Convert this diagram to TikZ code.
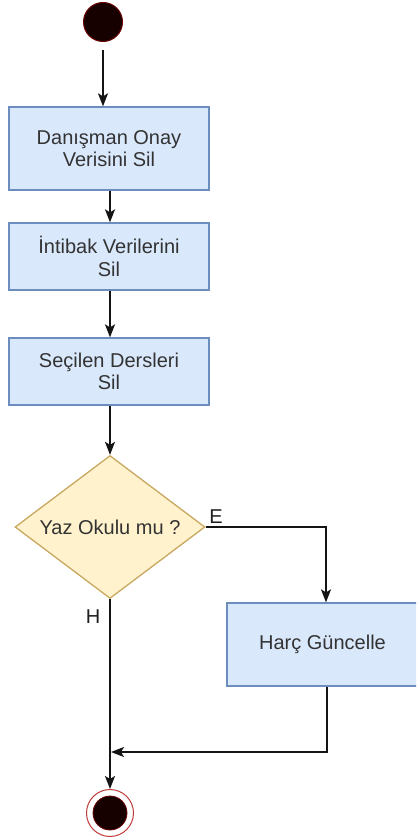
\documentclass[tikz,border=0pt]{standalone}
\usepackage{fontspec}
\setmainfont{Liberation Sans}
\usetikzlibrary{shapes.geometric,arrows.meta}

\definecolor{boxfill}{HTML}{DAE8FC}
\definecolor{boxline}{HTML}{6C8EBF}
\definecolor{decfill}{HTML}{FFF2CC}
\definecolor{decline}{HTML}{C9A860}
\definecolor{txt}{HTML}{333333}
\definecolor{dotfill}{HTML}{160000}
\definecolor{dotline}{HTML}{6A0000}
\definecolor{ringline}{HTML}{C03A3A}

\tikzset{
  stepbox/.style={rectangle, draw=boxline, fill=boxfill, line width=1.3pt,
    text=txt, align=center, inner sep=0pt,
    font=\fontsize{20}{22.5}\selectfont},
  decision/.style={diamond, aspect=1.33, draw=decline, fill=decfill, line width=1.3pt,
    text=txt, inner sep=0pt, minimum width=190pt, minimum height=143pt,
    font=\fontsize{20}{22.5}\selectfont},
  flow/.style={line width=1.6pt, draw={rgb,255:red,20;green,20;blue,20},
    -{Stealth[length=13pt,width=10pt,inset=3pt]}},
  plain/.style={line width=1.6pt, draw={rgb,255:red,20;green,20;blue,20}},
  branch/.style={text={rgb,255:red,30;green,30;blue,30}, inner sep=0pt,
    font=\fontsize{20}{22}\selectfont}
}

\begin{document}
\begin{tikzpicture}[x=1pt,y=-1pt]
  \useasboundingbox (0,0) rectangle (416,837);
  \clip (0,0) rectangle (416,837);

  % initial state
  \node[circle, fill=dotfill, draw=dotline, line width=1pt,
        minimum size=39pt, inner sep=0pt] (start) at (103,22) {};

  % activity steps
  \node[stepbox, minimum width=200pt, minimum height=83pt] (b1) at (109,148.5)
    {Danışman Onay\\Verisini Sil};
  \node[stepbox, minimum width=200pt, minimum height=67pt] (b2) at (109,256.5)
    {İntibak Verilerini\\Sil};
  \node[stepbox, minimum width=200pt, minimum height=67pt] (b3) at (109,371.5)
    {Seçilen Dersleri\\Sil};

  % decision
  \node[decision] (d) at (110,527) {Yaz Okulu mu ?};

  % fee update
  \node[stepbox, minimum width=191pt, minimum height=83pt] (b4) at (322.5,644.5)
    {Harç Güncelle};

  % final state
  \node[circle, draw=ringline, line width=1pt, fill=white,
        minimum size=47pt, inner sep=0pt] (end) at (110,813) {};
  \node[circle, fill=dotfill, draw=dotline, line width=0.8pt,
        minimum size=34pt, inner sep=0pt] (endin) at (end.center) {};

  % helper points
  \coordinate (yesdown) at (326,527);
  \coordinate (join) at (110,752);

  % connectors
  \draw[flow] ([yshift=-8pt]start.south) -- (start.south |- b1.north);
  \draw[flow] ([xshift=1pt]b1.south) -- ([xshift=1pt]b2.north);
  \draw[flow] ([xshift=1pt]b2.south) -- ([xshift=1pt]b3.north);
  \draw[flow] ([xshift=1pt]b3.south) -- (d.north);
  \draw[flow] (d.east) -- (yesdown) -- (yesdown |- b4.north);
  \draw[flow] (d.south) -- (end.north);
  \draw[flow] (b4.south -| 327,0) |- ([xshift=1pt]join);

  % branch labels
  \node[branch] (lblE) at (216,516.5) {E};
  \node[branch] (lblH) at (93,617) {H};
\end{tikzpicture}
\end{document}
